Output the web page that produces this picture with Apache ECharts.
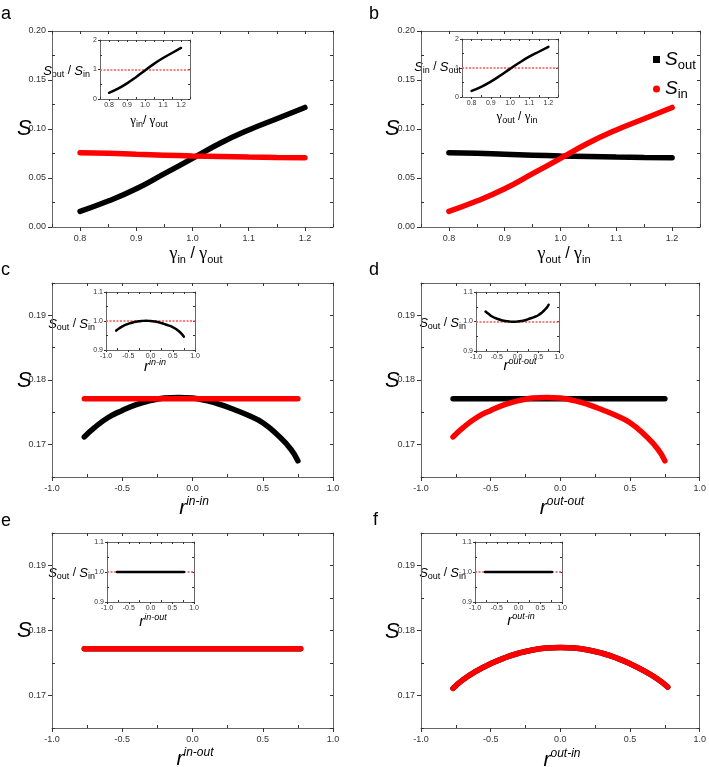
<!DOCTYPE html>
<html>
<head>
<meta charset="utf-8">
<script src="https://cdn.jsdelivr.net/npm/echarts@6/dist/echarts.min.js"></script>
<style>
  html, body { margin: 0; padding: 0; background: #fff; }
  #chart { width: 709px; height: 767px; }
</style>
</head>
<body>
<div id="chart"></div>
<script>
// ---- data ----
// panels a / b : x = gamma ratio
const gammaX = [0.8, 0.85, 0.9, 0.95, 1.0, 1.05, 1.1, 1.15, 1.2];
const aSout = [0.016, 0.0265, 0.039, 0.0544, 0.070, 0.0857, 0.099, 0.1105, 0.122];
const aSin = [0.0758, 0.0752, 0.0742, 0.0733, 0.0725, 0.0719, 0.0714, 0.071, 0.0707];
const aRatio = [0.21, 0.35, 0.53, 0.74, 0.97, 1.19, 1.39, 1.56, 1.73];
const bSout = [0.0758, 0.0752, 0.0742, 0.0733, 0.0725, 0.0719, 0.0714, 0.071, 0.0707];
const bSin = [0.016, 0.0265, 0.039, 0.0544, 0.070, 0.0857, 0.099, 0.1105, 0.122];
const bRatio = [0.21, 0.35, 0.53, 0.74, 0.97, 1.19, 1.39, 1.56, 1.73];

// panels c / d : x = assortativity r
const rX = [-0.77, -0.7, -0.6, -0.5, -0.4, -0.3, -0.2, -0.1, 0, 0.1, 0.2, 0.3, 0.4, 0.5, 0.6, 0.7, 0.75];
const cSout = [0.1712, 0.1726, 0.1742, 0.1753, 0.1762, 0.1768, 0.1772, 0.1773, 0.1772, 0.1768, 0.1762, 0.1754, 0.1745, 0.1734, 0.1716, 0.1693, 0.1675];
const cSin = [0.1771, 0.1771, 0.1771, 0.1771, 0.1771, 0.1771, 0.1771, 0.1771, 0.1771, 0.1771, 0.1771, 0.1771, 0.1771, 0.1771, 0.1771, 0.1771, 0.1771];
const cRatio = [0.967, 0.975, 0.984, 0.990, 0.995, 0.998, 1.000, 1.001, 1.000, 0.998, 0.995, 0.990, 0.985, 0.979, 0.969, 0.956, 0.946];
const dSout = [0.1771, 0.1771, 0.1771, 0.1771, 0.1771, 0.1771, 0.1771, 0.1771, 0.1771, 0.1771, 0.1771, 0.1771, 0.1771, 0.1771, 0.1771, 0.1771, 0.1771];
const dSin = [0.1712, 0.1726, 0.1742, 0.1753, 0.1762, 0.1768, 0.1772, 0.1773, 0.1772, 0.1768, 0.1762, 0.1754, 0.1745, 0.1734, 0.1716, 0.1693, 0.1675];
const dRatio = [1.034, 1.026, 1.016, 1.010, 1.005, 1.002, 1.000, 0.999, 1.000, 1.002, 1.005, 1.010, 1.015, 1.021, 1.032, 1.046, 1.057];

// panels e / f
const eX = [-0.77, -0.5, -0.25, 0, 0.25, 0.5, 0.77];
const eSout = [0.1772, 0.1772, 0.1772, 0.1772, 0.1772, 0.1772, 0.1772];
const eSin = [0.1772, 0.1772, 0.1772, 0.1772, 0.1772, 0.1772, 0.1772];
const eRatio = [1.0, 1.0, 1.0, 1.0, 1.0, 1.0, 1.0];
const fX = [-0.77, -0.7, -0.6, -0.5, -0.4, -0.3, -0.2, -0.1, 0, 0.1, 0.2, 0.3, 0.4, 0.5, 0.6, 0.7, 0.77];
const fSout = [0.1711, 0.1724, 0.1738, 0.1749, 0.1758, 0.1765, 0.1770, 0.1773, 0.1774, 0.1773, 0.1770, 0.1765, 0.1758, 0.1749, 0.1738, 0.1725, 0.1713];
const fSin = [0.1711, 0.1724, 0.1738, 0.1749, 0.1758, 0.1765, 0.1770, 0.1773, 0.1774, 0.1773, 0.1770, 0.1765, 0.1758, 0.1749, 0.1738, 0.1725, 0.1713];
const fRatio = [1.0, 1.0, 1.0, 1.0, 1.0, 1.0, 1.0, 1.0, 1.0, 1.0, 1.0, 1.0, 1.0, 1.0, 1.0, 1.0, 1.0];

// tick values
const gammaTicks = [0.8, 0.9, 1.0, 1.1, 1.2];
const gammaMinor = [0.75, 0.85, 0.95, 1.05, 1.15, 1.25];
const rTicks = [-1.0, -0.5, 0.0, 0.5, 1.0];
const rMinor = [-0.75, -0.25, 0.25, 0.75];
const sTicksAB = [0, 0.05, 0.10, 0.15, 0.20];
const sMinorAB = [0.025, 0.075, 0.125, 0.175];
const sTicksCF = [0.17, 0.18, 0.19];
const sMinorCF = [0.165, 0.175, 0.185, 0.195];
const ratioTicksAB = [0, 1, 2];
const ratioMinorAB = [0.5, 1.5];
const ratioTicksCF = [0.9, 1.0, 1.1];
const ratioMinorCF = [0.95, 1.05];

const FONT = 'Liberation Sans';
const frameColor = '#666';
const tickColor = '#333';
const labelColor = '#333';

const grids = [], xAxes = [], yAxes = [], series = [];

function addPanel(rect, xr, yr, small) {
  const gi = grids.length;
  grids.push({ left: rect[0], top: rect[1], width: rect[2], height: rect[3] });
  const tl = small ? 2 : 4;
  const fs = small ? 7 : 9;
  const base = (r, pos) => ({
    type: 'value', gridIndex: gi, position: pos, min: r.min, max: r.max,
    splitLine: { show: false }
  });
  // main axis: frame line, outward major ticks, labels
  const main = (r, pos, isX) => Object.assign(base(r, pos), {
    axisLine: { show: true, onZero: false, lineStyle: { color: frameColor, width: 1 } },
    axisTick: { show: true, inside: false, length: tl, customValues: r.ticks, lineStyle: { color: tickColor } },
    axisLabel: {
      show: true, customValues: r.ticks, fontFamily: FONT, fontSize: fs, color: labelColor,
      margin: small ? 3 : (isX ? 7 : 6), formatter: v => v.toFixed(r.dec)
    }
  });
  // inward minor ticks on the same side
  const minor = (r, pos) => Object.assign(base(r, pos), {
    axisLine: { show: false, onZero: false },
    axisTick: { show: true, inside: true, length: small ? 2 : 3, customValues: r.minor, lineStyle: { color: tickColor } },
    axisLabel: { show: false }
  });
  // opposite side: frame line with inward ticks
  const mirror = (r, pos) => Object.assign(base(r, pos), {
    axisLine: { show: true, onZero: false, lineStyle: { color: frameColor, width: 1 } },
    axisTick: { show: true, inside: true, length: small ? 2 : 3, customValues: r.ticks.concat(r.minor), lineStyle: { color: tickColor } },
    axisLabel: { show: false }
  });
  const xi = xAxes.length, yi = yAxes.length;
  xAxes.push(main(xr, 'bottom', true), minor(xr, 'bottom'), mirror(xr, 'top'));
  yAxes.push(main(yr, 'left', false), minor(yr, 'left'), mirror(yr, 'right'));
  return { x: xi, y: yi };
}

function curve(p, name, xs, ys, color, width) {
  series.push({
    type: 'line', name: name, xAxisIndex: p.x, yAxisIndex: p.y,
    data: xs.map((x, i) => [x, ys[i]]), smooth: true, showSymbol: false,
    lineStyle: { color: color, width: width, cap: 'round' }, itemStyle: { color: color },
    silent: true, z: color === '#000' ? 2 : 3
  });
}

// ratio = 1 reference line, light red dotted
const refLine = { color: '#ff5050', type: [2, 1.5], width: 1.6 };
function ratio(p, xs, ys) {
  series.push({
    type: 'line', name: 'ratio', xAxisIndex: p.x, yAxisIndex: p.y,
    data: xs.map((x, i) => [x, ys[i]]), smooth: true, showSymbol: false,
    lineStyle: { color: '#000', width: 2.5, cap: 'round' }, itemStyle: { color: '#000' }, silent: true, z: 3,
    markLine: {
      silent: true, symbol: 'none', label: { show: false }, z: 2,
      lineStyle: refLine,
      data: [{ yAxis: 1, lineStyle: refLine }]
    }
  });
}

const gRange = { min: 0.75, max: 1.25, ticks: gammaTicks, minor: gammaMinor, dec: 1 };
const rRange = { min: -1, max: 1, ticks: rTicks, minor: rMinor, dec: 1 };
const sAB = { min: 0, max: 0.2, ticks: sTicksAB, minor: sMinorAB, dec: 2 };
const sCF = { min: 0.165, max: 0.195, ticks: sTicksCF, minor: sMinorCF, dec: 2 };
const qAB = { min: 0, max: 2, ticks: ratioTicksAB, minor: ratioMinorAB, dec: 0 };
const qCF = { min: 0.9, max: 1.1, ticks: ratioTicksCF, minor: ratioMinorCF, dec: 1 };

// main panels
const pa = addPanel([52, 31, 281, 196], gRange, sAB);
const pb = addPanel([421, 31, 279, 196], gRange, sAB);
const pc = addPanel([52, 283, 281, 194], rRange, sCF);
const pd = addPanel([421, 283, 279, 194], rRange, sCF);
const pe = addPanel([52, 533, 281, 195], rRange, sCF);
const pf = addPanel([421, 533, 280, 195], rRange, sCF);
// insets
const ia = addPanel([100, 40, 90, 59], gRange, qAB, true);
const ib = addPanel([462, 39, 96, 58], gRange, qAB, true);
const ic = addPanel([106, 292, 89, 58], rRange, qCF, true);
const id = addPanel([476, 292, 83, 59], rRange, qCF, true);
const ie = addPanel([107, 542, 87, 60], rRange, qCF, true);
const iff = addPanel([475, 542, 87, 60], rRange, qCF, true);

const W = 5.5;
curve(pa, 'Sout', gammaX, aSout, '#000', W); curve(pa, 'Sin', gammaX, aSin, '#f00', W);
curve(pb, 'Sout', gammaX, bSout, '#000', W); curve(pb, 'Sin', gammaX, bSin, '#f00', W);
curve(pc, 'Sout', rX, cSout, '#000', W); curve(pc, 'Sin', rX, cSin, '#f00', W);
curve(pd, 'Sout', rX, dSout, '#000', W); curve(pd, 'Sin', rX, dSin, '#f00', W);
curve(pe, 'Sout', eX, eSout, '#000', W); curve(pe, 'Sin', eX, eSin, '#f00', W);
curve(pf, 'Sout', fX, fSout, '#000', W); curve(pf, 'Sin', fX, fSin, '#f00', W);
ratio(ia, gammaX, aRatio); ratio(ib, gammaX, bRatio);
ratio(ic, rX, cRatio); ratio(id, rX, dRatio);
ratio(ie, eX, eRatio); ratio(iff, fX, fRatio);

// ---- text ----
const richMain = {
  g: { fontFamily: 'Liberation Serif', fontSize: 18, lineHeight: 22, verticalAlign: 'middle', color: '#000' },
  t: { fontFamily: FONT, fontSize: 16, lineHeight: 22, verticalAlign: 'middle', color: '#000' },
  s: { fontFamily: FONT, fontSize: 11, lineHeight: 11, verticalAlign: 'bottom', color: '#000' },
  r: { fontFamily: FONT, fontSize: 21, fontStyle: 'italic', lineHeight: 24, verticalAlign: 'middle', color: '#000' },
  p: { fontFamily: FONT, fontSize: 12, fontStyle: 'italic', lineHeight: 12, verticalAlign: 'top', color: '#000' }
};
const richSmall = {
  g: { fontFamily: 'Liberation Serif', fontSize: 13, lineHeight: 16, verticalAlign: 'middle', color: '#000' },
  t: { fontFamily: FONT, fontSize: 12, lineHeight: 16, verticalAlign: 'middle', color: '#000' },
  S: { fontFamily: FONT, fontSize: 13, fontStyle: 'italic', lineHeight: 16, verticalAlign: 'middle', color: '#000' },
  s: { fontFamily: FONT, fontSize: 9, lineHeight: 9, verticalAlign: 'bottom', color: '#000' },
  r: { fontFamily: FONT, fontSize: 15, fontStyle: 'italic', lineHeight: 18, verticalAlign: 'middle', color: '#000' },
  p: { fontFamily: FONT, fontSize: 9, fontStyle: 'italic', lineHeight: 9, verticalAlign: 'top', color: '#000' }
};

function txt(x, y, text, rich, align) {
  return {
    type: 'text', x: x, y: y, silent: true,
    style: { text: text, rich: rich, align: align || 'center', verticalAlign: 'middle' }
  };
}
function plain(x, y, text, size, italic) {
  return {
    type: 'text', x: x, y: y, silent: true,
    style: { text: text, fontFamily: FONT, fontSize: size, fontStyle: italic ? 'italic' : 'normal', fill: '#000', align: 'left', verticalAlign: 'middle' }
  };
}

const graphics = [
  plain(1, 14, 'a', 18), plain(369, 14, 'b', 18),
  plain(1, 270, 'c', 18), plain(369, 270, 'd', 18),
  plain(1, 521, 'e', 18), plain(373, 520, 'f', 18),
  plain(17, 129, 'S', 22, true), plain(385, 129, 'S', 22, true),
  plain(17, 381, 'S', 22, true), plain(385, 381, 'S', 22, true),
  plain(17, 631, 'S', 22, true), plain(385, 632, 'S', 22, true),
  // main x titles
  txt(196, 254, '{g|γ}{s|in}{t| / }{g|γ}{s|out}', richMain),
  txt(564, 254, '{g|γ}{s|out}{t| / }{g|γ}{s|in}', richMain),
  txt(194, 508, '{r|r}{p|in-in}', richMain),
  txt(562, 508, '{r|r}{p|out-out}', richMain),
  txt(195, 759, '{r|r}{p|in-out}', richMain),
  txt(562, 760, '{r|r}{p|out-in}', richMain),
  // inset y titles
  txt(90, 71, '{S|S}{s|out}{t| / }{S|S}{s|in}', richSmall, 'right'),
  txt(461, 67, '{S|S}{s|in}{t| / }{S|S}{s|out}', richSmall, 'right'),
  txt(95, 324, '{S|S}{s|out}{t| / }{S|S}{s|in}', richSmall, 'right'),
  txt(466, 323, '{S|S}{s|out}{t| / }{S|S}{s|in}', richSmall, 'right'),
  txt(95, 573, '{S|S}{s|out}{t| / }{S|S}{s|in}', richSmall, 'right'),
  txt(466, 573, '{S|S}{s|out}{t| / }{S|S}{s|in}', richSmall, 'right'),
  // inset x titles
  txt(149, 121, '{g|γ}{s|in}{t|/ }{g|γ}{s|out}', richSmall),
  txt(517, 117, '{g|γ}{s|out}{t| / }{g|γ}{s|in}', richSmall),
  txt(155, 367, '{r|r}{p|in-in}', richSmall),
  txt(520, 366, '{r|r}{p|out-out}', richSmall),
  txt(153, 622, '{r|r}{p|in-out}', richSmall),
  txt(521, 621, '{r|r}{p|out-in}', richSmall)
];

const chart = echarts.init(document.getElementById('chart'), null, { renderer: 'canvas' });
chart.setOption({
  animation: false,
  backgroundColor: '#fff',
  grid: grids,
  xAxis: xAxes,
  yAxis: yAxes,
  legend: {
    data: [{ name: 'Sout', icon: 'rect' }, { name: 'Sin', icon: 'circle' }],
    orient: 'vertical', left: 648, top: 45, itemWidth: 7, itemHeight: 7, itemGap: 8,
    selectedMode: false,
    formatter: n => n === 'Sout' ? '{S|S}{s|out}' : '{S|S}{s|in}',
    textStyle: {
      rich: {
        S: { fontFamily: FONT, fontSize: 19, fontStyle: 'italic', lineHeight: 24, verticalAlign: 'middle', color: '#000' },
        s: { fontFamily: FONT, fontSize: 13, lineHeight: 13, verticalAlign: 'bottom', color: '#000' }
      }
    }
  },
  graphic: graphics,
  series: series
});
</script>
</body>
</html>
